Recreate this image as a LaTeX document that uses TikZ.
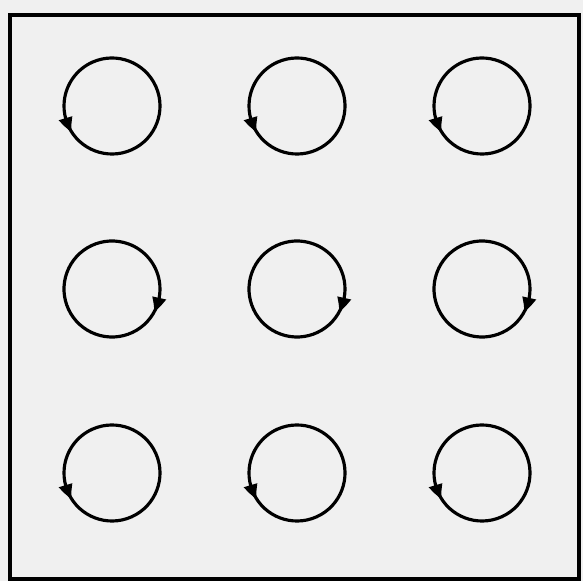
\documentclass[tikz,border=0pt]{standalone}
\usepackage{tikz}
\usetikzlibrary{arrows.meta, bending}
\definecolor{paper}{gray}{0.94}

\begin{document}
\begin{tikzpicture}[
  x=0.03cm, y=0.03cm,
  frame/.style={draw=black, line width=3.4pt},
  spin/.style={draw=black, line width=2.7pt,
    -{Triangle[length=4.6mm, width=4mm, bend]}}
]

% Page and frame
\fill[paper] (0,0) rectangle (583,581);
\useasboundingbox (0,0) rectangle (583,581);
\draw[frame] (10,566) rectangle (579,2);

% Centres of the cells
\foreach \col/\x in {1/112, 2/297, 3/482} {
  \coordinate (top\col) at (\x,475);
  \coordinate (mid\col) at (\x,292);
  \coordinate (bot\col) at (\x,108);
}

% Vortices: outer rows turn one way, middle row the other
\foreach \col in {1,2,3} {
  \draw[spin] ([shift={(204:48)}]top\col) arc[start angle=204, end angle=573, radius=48];
  \draw[spin] ([shift={(-20:48)}]mid\col) arc[start angle=-20, end angle=-389, radius=48];
  \draw[spin] ([shift={(204:48)}]bot\col) arc[start angle=204, end angle=573, radius=48];
}

\end{tikzpicture}
\end{document}
